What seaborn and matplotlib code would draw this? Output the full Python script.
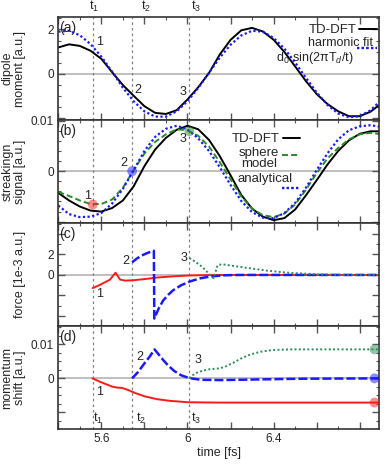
import numpy as np
import pandas as pd
import seaborn as sns
import matplotlib.pyplot as plt
from matplotlib.ticker import FixedLocator, FixedFormatter, MultipleLocator

# time grid for the smooth curves of panels (a) and (b) [fs]
T_GRID = [5.40, 5.45, 5.50, 5.55, 5.60, 5.65, 5.70, 5.75, 5.80, 5.85, 5.90,
          5.95, 6.00, 6.05, 6.10, 6.15, 6.20, 6.25, 6.30, 6.35, 6.40, 6.45,
          6.50, 6.55, 6.60, 6.65, 6.70, 6.75, 6.80, 6.85, 6.90]

# (a) dipole moment
DIP_TDDFT = [1.19, 1.33, 1.26, 1.04, 0.68, 0.08, -0.50, -0.98, -1.45, -1.75, -1.80,
             -1.63, -1.15, -0.60, 0.04, 0.87, 1.53, 1.96, 2.07, 1.91, 1.54, 0.99,
             0.34, -0.32, -0.90, -1.35, -1.68, -1.90, -1.90, -1.70, -1.33]
DIP_FIT = [1.90, 1.94, 1.74, 1.34, 0.78, 0.10, -0.62, -1.23, -1.68, -1.92, -1.92,
           -1.68, -1.23, -0.63, 0.05, 0.73, 1.31, 1.73, 1.94, 1.90, 1.62, 1.14,
           0.52, -0.17, -0.83, -1.39, -1.78, -1.95, -1.90, -1.64, -1.17]

# (b) streaking signal
STR_TDDFT = [-0.0043, -0.0058, -0.0070, -0.0078, -0.0080, -0.0073, -0.0058, -0.0030,
             0.0010, 0.0043, 0.0066, 0.0082, 0.0090, 0.0083, 0.0062, 0.0030, -0.0008,
             -0.0047, -0.0074, -0.0090, -0.0097, -0.0093, -0.0076, -0.0048, -0.0018,
             0.0013, 0.0040, 0.0061, 0.0074, 0.0079, 0.0079]
STR_SPHERE = [-0.0041, -0.0049, -0.0058, -0.0065, -0.0065, -0.0056, -0.0033, 0.0002,
              0.0035, 0.0058, 0.0073, 0.0083, 0.0081, 0.0070, 0.0049, 0.0018, -0.0016,
              -0.0050, -0.0074, -0.0087, -0.0091, -0.0084, -0.0066, -0.0037, -0.0004,
              0.0025, 0.0046, 0.0063, 0.0073, 0.0076, 0.0073]
STR_ANALYT = [-0.0068, -0.0085, -0.0091, -0.0090, -0.0083, -0.0064, -0.0035, 0.0002,
              0.0040, 0.0068, 0.0084, 0.0090, 0.0083, 0.0065, 0.0040, 0.0008, -0.0027,
              -0.0059, -0.0081, -0.0092, -0.0093, -0.0083, -0.0063, -0.0033, 0.0002,
              0.0035, 0.0063, 0.0081, 0.0089, 0.0091, 0.0088]

# ionisation instants t1, t2, t3
T_MARKS = [5.56, 5.743, 6.009]

# (c) force [1e-3 a.u.]
F1_T = [5.560, 5.594, 5.640, 5.666, 5.687, 5.710, 5.747, 5.803, 5.859, 5.943, 6.013, 6.106, 6.200, 6.895]
F1_V = [-1.28, -0.96, -0.46, 0.22, -0.45, -0.55, -0.52, -0.40, -0.25, -0.12, -0.05, -0.01, 0.0, 0.0]
F2_T = [5.743, 5.766, 5.793, 5.817, 5.844, 5.846, 5.868, 5.887, 5.910, 5.933, 5.971, 6.013, 6.059, 6.106, 6.176, 6.245, 6.895]
F2_V = [1.24, 1.62, 1.95, 2.17, 2.36, -4.25, -3.2, -2.5, -1.95, -1.5, -1.0, -0.62, -0.33, -0.15, -0.03, 0.0, 0.0]
F3_T = [6.009, 6.036, 6.068, 6.096, 6.121, 6.140, 6.161, 6.213, 6.292, 6.371, 6.478, 6.603, 6.733, 6.896]
F3_V = [1.65, 1.30, 0.80, 0.20, -0.32, 0.95, 1.05, 0.88, 0.65, 0.42, 0.20, 0.06, 0.01, 0.0]

# (d) momentum shift
P1_T = [5.559, 5.594, 5.622, 5.650, 5.673, 5.696, 5.724, 5.757, 5.803, 5.859, 5.920, 6.003, 6.152, 6.524, 6.896]
P1_V = [0.0, -0.0010, -0.0017, -0.0024, -0.0027, -0.0028, -0.0034, -0.0043, -0.0053, -0.0061,
        -0.0066, -0.0070, -0.0071, -0.0071, -0.0071]
P2_T = [5.743, 5.771, 5.799, 5.827, 5.847, 5.864, 5.887, 5.910, 5.938, 5.971, 6.008, 6.059, 6.152, 6.338, 6.524, 6.896]
P2_V = [0.0, 0.0019, 0.0043, 0.0066, 0.0085, 0.0072, 0.0054, 0.0038, 0.0022, 0.0009, 0.0001,
        -0.0004, -0.0005, -0.0003, -0.0001, 0.0]
P3_T = [6.009, 6.026, 6.045, 6.073, 6.105, 6.143, 6.171, 6.213, 6.254, 6.292, 6.338, 6.394, 6.478, 6.896]
P3_V = [0.0, 0.0010, 0.0017, 0.0023, 0.0027, 0.0029, 0.0033, 0.0046, 0.0060, 0.0070, 0.0078,
        0.0083, 0.0085, 0.0085]

# markers
B_DOT_V = [-0.0066, 0.0, 0.0079]
D_DOT_T = 6.869
D_DOT_V = [-0.0071, 0.0, 0.0085]

XTICKS = [5.4, 5.6, 5.8, 6.0, 6.2, 6.4, 6.6, 6.8]
XTICK_LABELS = ['', '5.6', '', '6', '', '6.4', '', '']

RED = '#ff1a1a'
BLUE = '#1a1aff'
GREEN_B = '#2a8a2a'
GREEN_D = '#2e8b57'
DOTTED = (0, (1, 1.1))
DASHED_B = (0, (3.1, 1.6))
DASHED_CD = (0, (3.6, 1.2))

sns.set_style('ticks')
plt.rcParams['font.family'] = ['Liberation Sans', 'DejaVu Sans']
plt.rcParams['mathtext.fontset'] = 'custom'
plt.rcParams['mathtext.rm'] = 'Liberation Sans'
plt.rcParams['mathtext.it'] = 'Liberation Sans:italic'
plt.rcParams['font.size'] = 8.5

fig, axes = plt.subplots(4, 1, sharex=True, figsize=(3.86, 4.65), dpi=100)
fig.subplots_adjust(left=0.151, right=0.982, top=0.963, bottom=0.077, hspace=0)
ax_a, ax_b, ax_c, ax_d = axes


def line(ax, t, v, **kw):
    sns.lineplot(x=t, y=v, ax=ax, estimator=None, sort=False, **kw)
    return ax.get_lines()[-1]


def key(ax, handle, x, y, length=1.5):
    # a legend entry with the sample only; its text is placed separately
    lg = ax.legend([handle], [''], loc='center', bbox_to_anchor=(x, y),
                   bbox_transform=ax.transAxes, frameon=False, handlelength=length,
                   handletextpad=0, borderpad=0, borderaxespad=0)
    ax.add_artist(lg)


for ax in axes:
    ax.axhline(0, color='#b4b4b4', lw=1.2, zorder=0)
    for tm in T_MARKS:
        ax.axvline(tm, color='#7f7f7f', lw=0.9, ls=(0, (2, 2.5)), zorder=0)

# (a)
h_td = line(ax_a, T_GRID, DIP_TDDFT, color='black', lw=1.4)
h_fit = line(ax_a, T_GRID, DIP_FIT, color=BLUE, lw=1.6, ls=DOTTED)
key(ax_a, h_td, 0.966, 0.875)
key(ax_a, h_fit, 0.963, 0.69, 1.7)
ax_a.text(0.931, 0.875, 'TD-DFT', transform=ax_a.transAxes, ha='right', va='center', fontsize=9.5)
ax_a.text(0.981, 0.745, 'harmonic fit', transform=ax_a.transAxes, ha='right', va='center', fontsize=9)
ax_a.text(0.919, 0.6, 'd$_0$·sin(2πT$_d$/t)', transform=ax_a.transAxes, ha='right', va='center',
          fontsize=9)

# (b)
h_td = line(ax_b, T_GRID, STR_TDDFT, color='black', lw=1.4)
h_sph = line(ax_b, T_GRID, STR_SPHERE, color=GREEN_B, lw=1.4, ls=DASHED_B)
h_an = line(ax_b, T_GRID, STR_ANALYT, color=BLUE, lw=1.6, ls=DOTTED)
sns.scatterplot(x=T_MARKS, y=B_DOT_V, hue=['1', '2', '3'], palette=[RED, BLUE, GREEN_B],
                ax=ax_b, s=50, alpha=0.5, edgecolor='none', legend=False, zorder=5)
key(ax_b, h_td, 0.727, 0.814)
key(ax_b, h_sph, 0.726, 0.647)
key(ax_b, h_an, 0.726, 0.329)
ax_b.text(0.691, 0.816, 'TD-DFT', transform=ax_b.transAxes, ha='right', va='center', fontsize=9.5)
ax_b.text(0.626, 0.628, 'sphere\nmodel', transform=ax_b.transAxes, ha='center', va='center',
          fontsize=9.5, linespacing=0.95)
ax_b.text(0.646, 0.425, 'analytical', transform=ax_b.transAxes, ha='center', va='center', fontsize=9.5)

# (c)
line(ax_c, F1_T, F1_V, color=RED, lw=1.4)
line(ax_c, F2_T, F2_V, color=BLUE, lw=1.8, ls=DASHED_CD)
line(ax_c, F3_T, F3_V, color=GREEN_D, lw=1.4, ls=(0, (1, 1.2)))

# (d)
line(ax_d, P1_T, P1_V, color=RED, lw=1.4)
line(ax_d, P2_T, P2_V, color=BLUE, lw=1.8, ls=DASHED_CD)
line(ax_d, P3_T, P3_V, color=GREEN_D, lw=1.4, ls=(0, (1, 1.2)))
sns.scatterplot(x=[D_DOT_T] * 3, y=D_DOT_V, hue=['1', '2', '3'], palette=[RED, BLUE, GREEN_D],
                ax=ax_d, s=50, alpha=0.5, edgecolor='none', legend=False, zorder=5)

# number labels next to the curves
NUM_POS = {
    ax_a: [(5.59, 1.45), (5.77, -0.70), (5.98, -0.83)],
    ax_b: [(5.534, -0.0050), (5.706, 0.0016), (5.98, 0.0063)],
    ax_c: [(5.592, -1.89), (5.713, 1.36), (5.982, 1.65)],
    ax_d: [(5.592, -0.00385), (5.778, 0.00636), (6.047, 0.0053)],
}
for ax, pos in NUM_POS.items():
    for k, (x, y) in enumerate(pos):
        ax.text(x, y, str(k + 1), ha='center', va='center', fontsize=9)

for k, x in enumerate([5.563, 5.761, 6.017]):
    ax_d.text(x, -0.0118, 't$_%d$' % (k + 1), ha='left', va='center', fontsize=9)
for k, x in enumerate([5.566, 5.808, 6.040]):
    ax_a.text(x, 1.03, 't$_%d$' % (k + 1), ha='center', va='bottom', fontsize=9,
              transform=ax_a.get_xaxis_transform())

for ax, letter in zip(axes, 'abcd'):
    ax.text(0.003, 0.96, '(%s)' % letter, transform=ax.transAxes, va='top', ha='left', fontsize=10)

# axes limits and ticks
ax_a.set_ylim(-2.08, 2.55)
ax_b.set_ylim(-0.0103, 0.0101)
ax_c.set_ylim(-5.0, 5.05)
ax_d.set_ylim(-0.0149, 0.0153)
ax_d.set_xlim(5.4, 6.89)

ax_d.xaxis.set_major_locator(FixedLocator(XTICKS))
ax_d.xaxis.set_major_formatter(FixedFormatter(XTICK_LABELS))
ax_d.xaxis.set_minor_locator(MultipleLocator(0.1))

YTICKS = {ax_a: ([-2, 0, 2], ['', '0', '2'], 0.5),
          ax_b: ([-0.01, 0, 0.01], ['', '0', '0.01'], 0.002),
          ax_c: ([-4, -2, 0, 2, 4], ['', '', '0', '2', ''], 1),
          ax_d: ([-0.01, 0, 0.01], ['', '0', '0.01'], 0.0025)}
for ax, (ticks, labels, minor) in YTICKS.items():
    ax.yaxis.set_major_locator(FixedLocator(ticks))
    ax.yaxis.set_major_formatter(FixedFormatter(labels))
    ax.yaxis.set_minor_locator(MultipleLocator(minor))

for ax in axes:
    ax.tick_params(which='both', direction='in', top=True, right=True, color='#555555',
                   labelsize=8.5, pad=3)
    ax.tick_params(which='major', length=5, width=1.0)
    ax.tick_params(which='minor', length=2.5, width=0.8)
    for sp in ax.spines.values():
        sp.set_color('#333333')
        sp.set_linewidth(1.2)
    ax.set_xlabel('')

ax_a.set_ylabel('dipole\nmoment [a.u.]', fontsize=9, linespacing=1.1)
ax_b.set_ylabel('streakingn\nsignal [a.u.]', fontsize=9, linespacing=1.1)
ax_c.set_ylabel('force [1e-3 a.u.]', fontsize=9)
ax_d.set_ylabel('momentum\nshift [a.u.]', fontsize=9, linespacing=1.1)
for ax in axes:
    ax.yaxis.set_label_coords(-0.1, 0.5)
ax_d.set_xlabel('time [fs]', fontsize=9, labelpad=1)

fig.savefig('out.png', dpi=100)
